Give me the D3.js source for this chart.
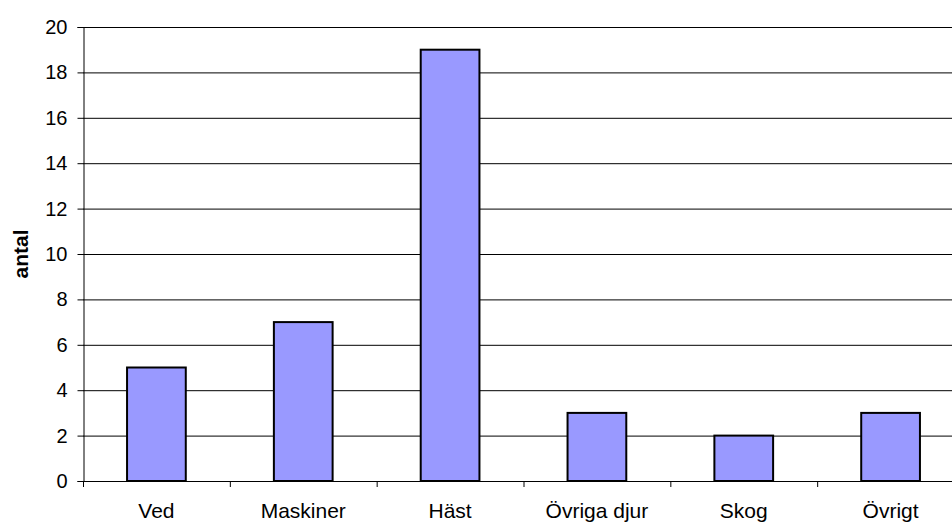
<!DOCTYPE html>
<html>
<head>
<meta charset="utf-8">
<script src="https://cdn.jsdelivr.net/npm/d3@7.9.0/dist/d3.min.js"></script>
<style>
  body { margin: 0; background: #fff; }
  svg { display: block; font-family: "Liberation Sans", Arial, sans-serif; }
</style>
</head>
<body>
<svg id="chart" width="952" height="523"></svg>
<script>
// Chart data
const categories = ['Ved', 'Maskiner', 'Häst', 'Övriga djur', 'Skog', 'Övrigt'];
const values = [5, 7, 19, 3, 2, 3];
const yTicks = [0, 2, 4, 6, 8, 10, 12, 14, 16, 18, 20];

const svg = d3.select('#chart');

// plot area (right side runs past the window edge, as in the original)
const plotLeft = 83, plotTop = 27, plotBottom = 481, plotWidth = 881;

const x = d3.scaleBand()
  .domain(categories)
  .range([plotLeft, plotLeft + plotWidth])
  .paddingInner(0.6)
  .paddingOuter(0.3);

const y = d3.scaleLinear()
  .domain([0, 20])
  .range([plotBottom, plotTop]);

// gridlines
svg.append('g')
  .selectAll('line')
  .data(yTicks.filter(d => d > 0))
  .join('line')
  .attr('x1', plotLeft)
  .attr('x2', plotLeft + plotWidth)
  .attr('y1', d => y(d) + 0.5)
  .attr('y2', d => y(d) + 0.5)
  .attr('stroke', '#000')
  .attr('stroke-width', 1);

// y axis
const yAxis = svg.append('g')
  .attr('transform', `translate(${plotLeft + 0.5},0)`)
  .call(d3.axisLeft(y).tickValues(yTicks).tickSize(6).tickPadding(10).tickFormat(d3.format('d')));
yAxis.attr('font-size', 20).attr('font-family', '"Liberation Sans", Arial, sans-serif');
yAxis.select('.domain').attr('stroke', '#000');
yAxis.selectAll('.tick line').attr('stroke', '#000');
yAxis.selectAll('.tick text').attr('fill', '#000');

// x axis baseline and tick marks at category boundaries
svg.append('line')
  .attr('x1', plotLeft)
  .attr('x2', plotLeft + plotWidth)
  .attr('y1', plotBottom + 0.5)
  .attr('y2', plotBottom + 0.5)
  .attr('stroke', '#000');

const step = x.step();
const x0 = x.range()[0];
svg.append('g')
  .selectAll('line')
  .data(d3.range(categories.length + 1))
  .join('line')
  .attr('x1', i => x0 + i * step + 0.5)
  .attr('x2', i => x0 + i * step + 0.5)
  .attr('y1', plotBottom)
  .attr('y2', plotBottom + 6)
  .attr('stroke', '#000');

// bars
svg.append('g')
  .selectAll('rect')
  .data(categories)
  .join('rect')
  .attr('x', (d) => x(d))
  .attr('y', (d, i) => y(values[i]))
  .attr('width', x.bandwidth())
  .attr('height', (d, i) => y(0) - y(values[i]))
  .attr('fill', '#9999ff')
  .attr('stroke', '#000')
  .attr('stroke-width', 2);

// category labels
svg.append('g')
  .selectAll('text')
  .data(categories)
  .join('text')
  .attr('x', d => x(d) + x.bandwidth() / 2)
  .attr('y', 518)
  .attr('text-anchor', 'middle')
  .attr('font-size', 21)
  .text(d => d);

// y axis title
svg.append('text')
  .attr('transform', `translate(28,${(plotTop + plotBottom) / 2}) rotate(-90)`)
  .attr('text-anchor', 'middle')
  .attr('font-size', 21)
  .attr('font-weight', 'bold')
  .text('antal');
</script>
</body>
</html>
